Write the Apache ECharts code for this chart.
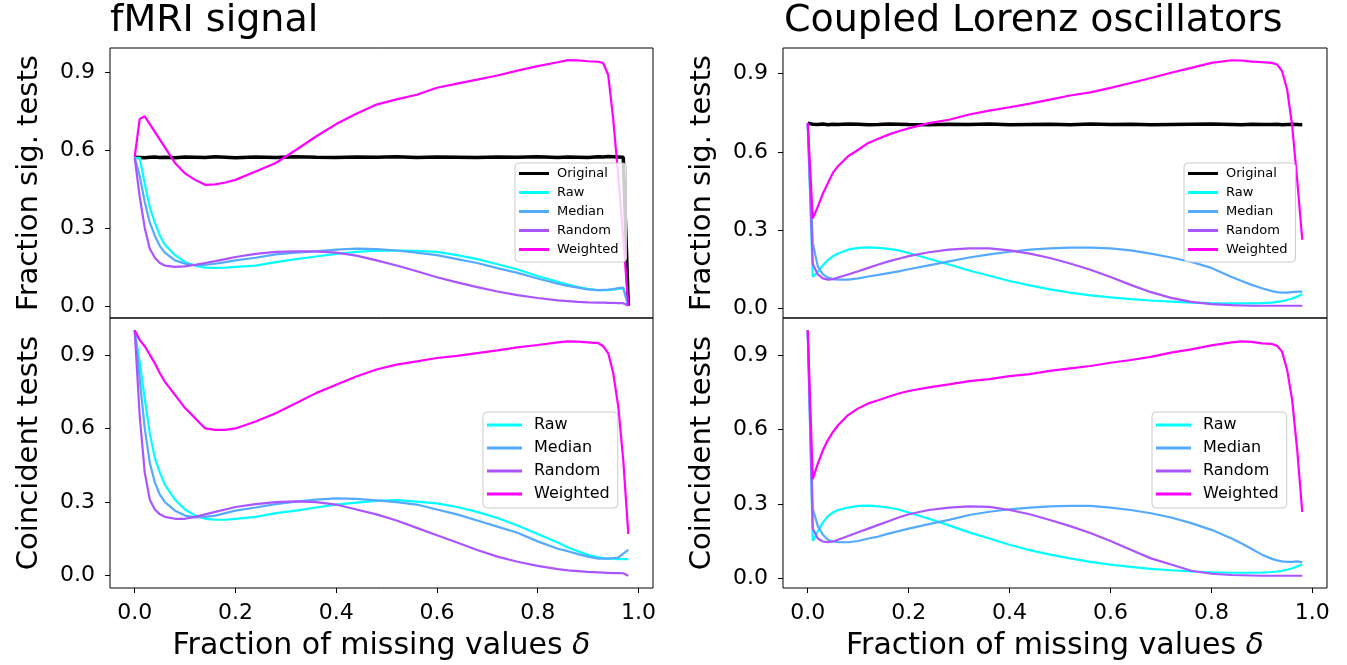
<!DOCTYPE html>
<html>
<head>
<meta charset="utf-8">
<script src="https://cdn.jsdelivr.net/npm/echarts@6/dist/echarts.min.js"></script>
<style>
  html, body { margin: 0; padding: 0; background: #fff; }
  #chart { width: 1347px; height: 665px; }
</style>
</head>
<body>
<div id="chart"></div>
<script>
// fraction of missing values (x)
const missingFrac = [0, 0.01, 0.02, 0.03, 0.04, 0.05, 0.06, 0.08, 0.10, 0.12, 0.14, 0.16, 0.18, 0.20,
  0.24, 0.28, 0.32, 0.36, 0.40, 0.44, 0.48, 0.52, 0.56, 0.60, 0.64, 0.68, 0.72, 0.76, 0.80, 0.84,
  0.86, 0.88, 0.90, 0.92, 0.93, 0.94, 0.95, 0.96, 0.97, 0.98];

// fMRI - fraction of significant tests
const fmriSigOriginal = [0.572, 0.571, 0.570, 0.572, 0.573, 0.571, 0.572, 0.570, 0.573, 0.572, 0.571, 0.574, 0.572, 0.570,
  0.573, 0.571, 0.574, 0.572, 0.571, 0.573, 0.572, 0.574, 0.571, 0.573, 0.572, 0.571, 0.573, 0.572, 0.574, 0.571,
  0.573, 0.572, 0.571, 0.574, 0.573, 0.575, 0.574, 0.573, 0.572, 0.0];
const fmriSigRaw = [0.57, 0.57, 0.47, 0.38, 0.32, 0.27, 0.235, 0.195, 0.168, 0.155, 0.147, 0.146, 0.147, 0.150,
  0.155, 0.168, 0.18, 0.19, 0.20, 0.208, 0.212, 0.213, 0.212, 0.208, 0.195, 0.18, 0.16, 0.14, 0.115, 0.092,
  0.082, 0.072, 0.065, 0.06, 0.06, 0.06, 0.062, 0.065, 0.068, 0.0];
const fmriSigMedian = [0.57, 0.50, 0.40, 0.32, 0.27, 0.23, 0.205, 0.175, 0.162, 0.157, 0.158, 0.162, 0.168, 0.175,
  0.185, 0.198, 0.205, 0.21, 0.216, 0.22, 0.218, 0.213, 0.205, 0.195, 0.18, 0.165, 0.145, 0.127, 0.105, 0.085,
  0.077, 0.07, 0.063, 0.06, 0.061, 0.062, 0.064, 0.068, 0.07, 0.0];
const fmriSigRandom = [0.57, 0.42, 0.30, 0.22, 0.185, 0.165, 0.155, 0.15, 0.152, 0.158, 0.165, 0.172, 0.18, 0.188,
  0.20, 0.208, 0.21, 0.21, 0.205, 0.193, 0.175, 0.155, 0.133, 0.11, 0.09, 0.072, 0.055, 0.041, 0.03, 0.021,
  0.018, 0.015, 0.013, 0.012, 0.012, 0.011, 0.011, 0.01, 0.01, 0.0];
const fmriSigWeighted = [0.573, 0.72, 0.73, 0.70, 0.67, 0.64, 0.61, 0.55, 0.51, 0.485, 0.466, 0.468, 0.475, 0.485,
  0.517, 0.55, 0.60, 0.652, 0.70, 0.74, 0.775, 0.795, 0.813, 0.84, 0.856, 0.871, 0.887, 0.906, 0.923, 0.938,
  0.946, 0.945, 0.942, 0.94, 0.935, 0.89, 0.72, 0.50, 0.26, 0.0];

// fMRI - coincident tests
const fmriCoinRaw = [1.0, 0.87, 0.72, 0.58, 0.48, 0.42, 0.37, 0.31, 0.27, 0.245, 0.232, 0.228, 0.228, 0.232,
  0.24, 0.255, 0.265, 0.278, 0.29, 0.298, 0.305, 0.308, 0.302, 0.295, 0.28, 0.26, 0.235, 0.205, 0.17, 0.135,
  0.115, 0.1, 0.085, 0.075, 0.072, 0.07, 0.07, 0.068, 0.068, 0.068];
const fmriCoinMedian = [1.0, 0.80, 0.60, 0.46, 0.38, 0.33, 0.30, 0.265, 0.245, 0.238, 0.24, 0.245, 0.255, 0.265,
  0.278, 0.292, 0.302, 0.31, 0.315, 0.313, 0.307, 0.30, 0.29, 0.27, 0.25, 0.225, 0.2, 0.175, 0.14, 0.11,
  0.1, 0.088, 0.078, 0.07, 0.07, 0.07, 0.072, 0.074, 0.09, 0.105];
const fmriCoinRandom = [1.0, 0.65, 0.42, 0.31, 0.27, 0.25, 0.24, 0.232, 0.232, 0.24, 0.25, 0.26, 0.27, 0.28,
  0.292, 0.3, 0.303, 0.3, 0.29, 0.27, 0.25, 0.225, 0.195, 0.165, 0.135, 0.105, 0.078, 0.057, 0.04, 0.027,
  0.022, 0.019, 0.016, 0.014, 0.013, 0.012, 0.011, 0.011, 0.01, 0.0];
const fmriCoinWeighted = [1.0, 0.96, 0.935, 0.90, 0.866, 0.825, 0.79, 0.737, 0.683, 0.642, 0.60, 0.594, 0.594, 0.60,
  0.628, 0.662, 0.703, 0.744, 0.778, 0.812, 0.84, 0.86, 0.873, 0.887, 0.896, 0.907, 0.918, 0.93, 0.94, 0.951,
  0.955, 0.954, 0.951, 0.948, 0.935, 0.907, 0.826, 0.69, 0.47, 0.17];

// Lorenz - fraction of significant tests
const lorenzSigOriginal = [0.71, 0.706, 0.705, 0.707, 0.704, 0.706, 0.705, 0.707, 0.706, 0.704, 0.705, 0.707, 0.706, 0.705,
  0.704, 0.706, 0.705, 0.707, 0.704, 0.705, 0.706, 0.704, 0.707, 0.705, 0.706, 0.704, 0.705, 0.706, 0.707, 0.705,
  0.704, 0.706, 0.705, 0.705, 0.706, 0.704, 0.705, 0.706, 0.705, 0.704];
const lorenzSigRaw = [0.71, 0.12, 0.14, 0.165, 0.185, 0.2, 0.21, 0.225, 0.232, 0.234, 0.232, 0.228, 0.222, 0.212,
  0.19, 0.168, 0.145, 0.125, 0.105, 0.088, 0.073, 0.06, 0.05, 0.042, 0.035, 0.03, 0.026, 0.022, 0.02, 0.019,
  0.019, 0.019, 0.02, 0.022, 0.025, 0.028, 0.032, 0.038, 0.045, 0.055];
const lorenzSigMedian = [0.71, 0.25, 0.16, 0.13, 0.118, 0.112, 0.11, 0.11, 0.115, 0.122, 0.128, 0.135, 0.142, 0.15,
  0.165, 0.18, 0.195, 0.207, 0.217, 0.225, 0.23, 0.233, 0.233, 0.23, 0.222, 0.21, 0.195, 0.178, 0.155, 0.12,
  0.105, 0.09, 0.077, 0.066, 0.062, 0.06, 0.06, 0.062, 0.064, 0.064];
const lorenzSigRandom = [0.71, 0.17, 0.13, 0.115, 0.11, 0.112, 0.118, 0.13, 0.142, 0.155, 0.168, 0.18, 0.19, 0.2,
  0.215, 0.225, 0.23, 0.23, 0.222, 0.21, 0.193, 0.172, 0.148, 0.12, 0.09, 0.062, 0.04, 0.025, 0.016, 0.012,
  0.011, 0.01, 0.01, 0.01, 0.01, 0.01, 0.01, 0.01, 0.01, 0.01];
const lorenzSigWeighted = [0.71, 0.345, 0.39, 0.44, 0.48, 0.52, 0.545, 0.583, 0.608, 0.634, 0.65, 0.666, 0.679, 0.69,
  0.71, 0.723, 0.743, 0.758, 0.771, 0.785, 0.80, 0.816, 0.828, 0.845, 0.864, 0.883, 0.903, 0.922, 0.941, 0.951,
  0.95, 0.946, 0.944, 0.941, 0.935, 0.909, 0.839, 0.70, 0.49, 0.263];

// Lorenz - coincident tests
const lorenzCoinRaw = [1.0, 0.15, 0.19, 0.225, 0.25, 0.265, 0.275, 0.285, 0.292, 0.293, 0.29, 0.285, 0.277, 0.265,
  0.24, 0.213, 0.185, 0.16, 0.135, 0.113, 0.095, 0.08, 0.066, 0.055, 0.046, 0.038, 0.032, 0.027, 0.024, 0.022,
  0.022, 0.022, 0.023, 0.025, 0.027, 0.03, 0.034, 0.04, 0.047, 0.055];
const lorenzCoinMedian = [1.0, 0.28, 0.21, 0.175, 0.155, 0.148, 0.145, 0.145, 0.15, 0.16, 0.168, 0.18, 0.19, 0.2,
  0.218, 0.235, 0.255, 0.268, 0.278, 0.285, 0.29, 0.292, 0.292, 0.285, 0.275, 0.262, 0.245, 0.222, 0.195, 0.16,
  0.14, 0.118, 0.095, 0.078, 0.072, 0.068, 0.066, 0.066, 0.068, 0.064];
const lorenzCoinRandom = [1.0, 0.2, 0.16, 0.148, 0.145, 0.148, 0.155, 0.17, 0.185, 0.2, 0.215, 0.23, 0.245, 0.258,
  0.275, 0.285, 0.29, 0.288, 0.275, 0.258, 0.235, 0.21, 0.182, 0.15, 0.115, 0.08, 0.055, 0.03, 0.018, 0.013,
  0.012, 0.011, 0.01, 0.01, 0.01, 0.01, 0.01, 0.01, 0.01, 0.01];
const lorenzCoinWeighted = [1.0, 0.40, 0.462, 0.516, 0.557, 0.59, 0.617, 0.658, 0.685, 0.705, 0.718, 0.732, 0.745, 0.755,
  0.77, 0.782, 0.795, 0.803, 0.815, 0.823, 0.836, 0.846, 0.856, 0.869, 0.88, 0.893, 0.91, 0.923, 0.939, 0.951,
  0.955, 0.953, 0.947, 0.945, 0.937, 0.914, 0.84, 0.718, 0.516, 0.267];

const xTicks = [0, 0.2, 0.4, 0.6, 0.8, 1.0];
const yTicks = [0, 0.3, 0.6, 0.9];
const titles = ['fMRI signal', 'Coupled Lorenz oscillators'];

const FONT = 'DejaVu Sans';
const colors = {
  Original: '#000000',
  Raw: '#00ffff',
  Median: '#55aaff',
  Random: '#aa55ff',
  Weighted: '#ff00ff'
};

const panels = [
  {
    grid: { left: 110, top: 48, width: 543, height: 270 },
    yMin: -0.047, yMax: 0.993, yName: 'Fraction sig. tests', bottom: false,
    lines: { Original: fmriSigOriginal, Raw: fmriSigRaw, Median: fmriSigMedian, Random: fmriSigRandom, Weighted: fmriSigWeighted },
    legend: { left: 515, top: 163, size: 13 }
  },
  {
    grid: { left: 110, top: 318, width: 543, height: 270 },
    yMin: -0.05, yMax: 1.05, yName: 'Coincident tests', bottom: true,
    lines: { Raw: fmriCoinRaw, Median: fmriCoinMedian, Random: fmriCoinRandom, Weighted: fmriCoinWeighted },
    legend: { left: 483, top: 412, size: 16 }
  },
  {
    grid: { left: 783, top: 48, width: 544, height: 270 },
    yMin: -0.037, yMax: 0.998, yName: 'Fraction sig. tests', bottom: false,
    lines: { Original: lorenzSigOriginal, Raw: lorenzSigRaw, Median: lorenzSigMedian, Random: lorenzSigRandom, Weighted: lorenzSigWeighted },
    legend: { left: 1184, top: 163, size: 13 }
  },
  {
    grid: { left: 783, top: 318, width: 544, height: 270 },
    yMin: -0.0395, yMax: 1.0495, yName: 'Coincident tests', bottom: true,
    lines: { Raw: lorenzCoinRaw, Median: lorenzCoinMedian, Random: lorenzCoinRandom, Weighted: lorenzCoinWeighted },
    legend: { left: 1152, top: 412, size: 16 }
  }
];

const grid = [];
const xAxis = [];
const yAxis = [];
const series = [];
const legend = [];

panels.forEach((p, i) => {
  grid.push(Object.assign({
    show: true, borderColor: '#000', borderWidth: 1, backgroundColor: 'transparent',
    containLabel: false, outerBoundsMode: 'none'
  }, p.grid));

  xAxis.push({
    type: 'value', gridIndex: i, min: -0.049, max: 1.029,
    axisLine: { show: false, onZero: false },
    splitLine: { show: false },
    axisTick: { show: p.bottom, customValues: xTicks, length: 5, lineStyle: { color: '#000', width: 1 } },
    axisLabel: {
      show: p.bottom, customValues: xTicks, margin: 14,
      fontFamily: FONT, fontSize: 22, color: '#000',
      formatter: v => v.toFixed(1)
    },
    name: p.bottom ? 'Fraction of missing values {d|δ}' : '',
    nameLocation: 'middle', nameGap: 43,
    nameTextStyle: {
      fontFamily: FONT, fontSize: 30, color: '#000',
      rich: { d: { fontFamily: FONT, fontSize: 30, fontStyle: 'italic', color: '#000' } }
    }
  });

  yAxis.push({
    type: 'value', gridIndex: i, min: p.yMin, max: p.yMax,
    axisLine: { show: false, onZero: false },
    splitLine: { show: false },
    axisTick: { show: true, customValues: yTicks, length: 5, lineStyle: { color: '#000', width: 1 } },
    axisLabel: {
      customValues: yTicks, margin: 15,
      fontFamily: FONT, fontSize: 22, color: '#000',
      formatter: v => v.toFixed(1)
    },
    name: p.yName, nameLocation: 'middle', nameRotate: 90, nameGap: 66,
    nameTextStyle: { fontFamily: FONT, fontSize: 29, color: '#000' }
  });

  Object.keys(p.lines).forEach(name => {
    series.push({
      name: name, type: 'line', xAxisIndex: i, yAxisIndex: i,
      data: missingFrac.map((x, k) => [x, p.lines[name][k]]),
      showSymbol: false, symbol: 'none',
      color: colors[name],
      itemStyle: { color: colors[name] },
      lineStyle: { color: colors[name], width: name === 'Original' ? 3.5 : 2.2 },
      emphasis: { disabled: true }
    });
  });

  const big = p.legend.size > 14;
  legend.push({
    orient: 'vertical', left: p.legend.left, top: p.legend.top,
    data: Object.keys(p.lines),
    icon: 'rect', itemWidth: big ? 35 : 30, itemHeight: 3, itemGap: big ? 5 : 4,
    padding: big ? [4, 8, 5, 4] : [3, 8, 5, 4],
    backgroundColor: 'rgba(255,255,255,0.8)', borderColor: '#cccccc', borderWidth: 1, borderRadius: 4,
    selectedMode: false,
    textStyle: {
      fontFamily: FONT, fontSize: p.legend.size, color: '#000',
      lineHeight: big ? 18 : 15, padding: [0, 0, 0, big ? 7 : 3]
    }
  });
});

const chart = echarts.init(document.getElementById('chart'), null, { renderer: 'canvas' });
chart.setOption({
  animation: false,
  backgroundColor: '#fff',
  title: [
    { text: titles[0], left: 110, top: 2, padding: 0, textStyle: { fontFamily: FONT, fontSize: 38, fontWeight: 'normal', color: '#000' } },
    { text: titles[1], left: 784, top: 2, padding: 0, textStyle: { fontFamily: FONT, fontSize: 38, fontWeight: 'normal', color: '#000' } }
  ],
  grid: grid,
  xAxis: xAxis,
  yAxis: yAxis,
  legend: legend,
  series: series
});
</script>
</body>
</html>
